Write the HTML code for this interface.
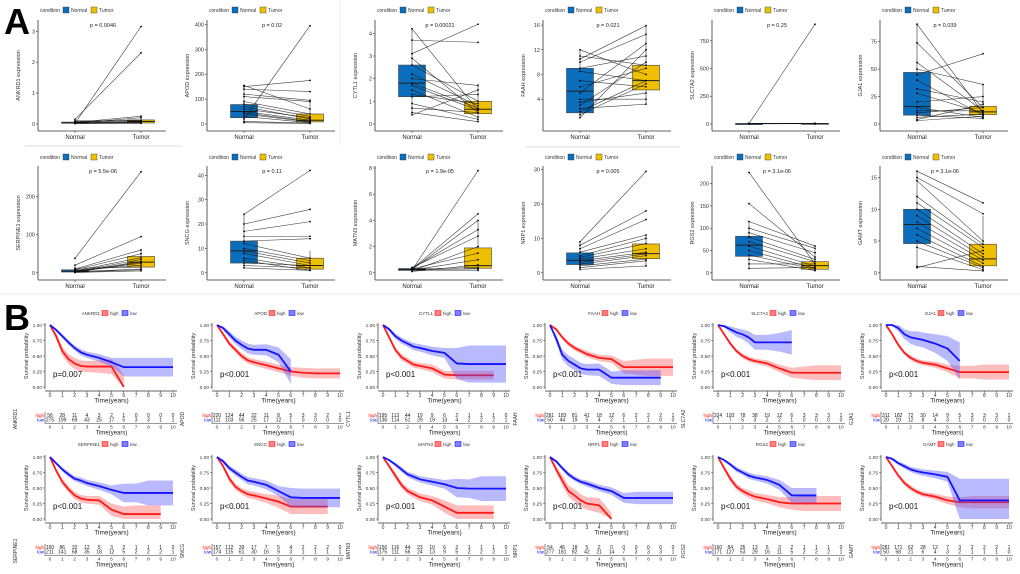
<!DOCTYPE html>
<html><head><meta charset="utf-8">
<style>
html,body{margin:0;padding:0;background:#fff;}
svg{display:block;font-family:"Liberation Sans",sans-serif;}
</style></head>
<body>
<svg id="fig" width="1020" height="574" viewBox="0 0 1020 574">
<text x="4" y="34" font-size="36" font-weight="bold">A</text>
<text x="4" y="330" font-size="36" font-weight="bold">B</text>
<line x1="25" y1="146" x2="182" y2="146" stroke="#ddd" stroke-width="1"/>
<line x1="340" y1="0" x2="340" y2="145" stroke="#eee" stroke-width="1"/>
<line x1="525" y1="147" x2="680" y2="147" stroke="#ddd" stroke-width="1"/>
<line x1="0" y1="294" x2="1020" y2="294" stroke="#eee" stroke-width="1"/>
</svg>
<script>
// ---------- Panel A data ----------
const genes = ["ANKRD1","APOD","CYTL1","FAAH","SLC7A2","GJA1","SERPINE1","SNCG","MATN3","NRP1","RGS2","GAMT"];
const pValsA = ["p = 0.0046","p = 0.02","p = 0.00021","p = 0.021","p = 0.25","p = 0.039","p = 5.5e-06","p = 0.11","p = 1.9e-05","p = 0.005","p = 3.1e-06","p = 3.1e-06"];
const yMaxA = [3.3,410,4.5,16.5,920,93,275,43,8,30.5,235,16.5];
const yTicksA = [[0,1,2,3],[0,100,200,300,400],[0,1,2,3,4],[4,8,12,16],[0,250,500,750],[0,25,50,75],[0,100,200],[0,10,20,30,40],[0,2,4,6,8],[0,10,20,30],[0,50,100,150,200],[0,5,10,15]];
const boxNormal = [[0,0.02,0.04,0.06,0.15],[5,25,50,78,155],[0.4,1.2,1.8,2.6,4.2],[1,1.8,5.3,9,12],[0,1,2,3,5],[3,8,16,47,91],[0,2,4,8,20],[2,4,9,13,24],[0.1,0.18,0.25,0.33,0.45],[1,2.4,3.6,5.8,9],[8,37,62,82,115],[1,4.6,7.6,10,16]];
const boxTumor = [[0,0.03,0.08,0.13,0.25],[2,8,15,40,95],[0.1,0.45,0.65,1.0,1.75],[3.2,5.5,7,9.5,15.9],[0,1,3,5,8],[5,8.5,11,16,36],[5,15,28,43,60],[1,1.5,3,6,9],[0.1,0.35,0.55,1.9,4],[2,4.1,5.6,8.4,11],[3,8,16,25,55],[0.3,1.1,2.2,4.5,9]];
const ptsNormal = [
 [0.02,0.15,0.05,0.03,0.1,0.04,0.06,0.02,0.08,0.03,0.05,0.01],
 [155,150,140,120,110,90,80,70,60,50,45,40,30,20,10,5],
 [4.2,3.7,3.1,2.9,2.6,2.2,2,1.8,1.7,1.5,1.3,1.2,0.9,0.7,0.5,0.4],
 [12,10.5,10,9,8.5,7,6,5,4,3.5,3,2,1.5,1,2.5,11],
 [3,2,4,1,5,2,3,1,2,4],
 [91,74,56,50,45,40,32,28,20,15,12,10,8,6,4,3],
 [38,20,10,8,5,3,2,1,4,6,12,3,2,1],
 [24,20,17,15,13,12,10,9,8,6,5,4,3,2],
 [0.2,0.3,0.25,0.35,0.4,0.15,0.3,0.2,0.1,0.3,0.25,0.2],
 [9,8,7,6,5,4.5,4,3.5,3,2.5,2,1.5,1],
 [225,155,115,100,90,80,70,60,50,40,30,20,10],
 [16,15,14.5,12,11,10,9,8,7,6,5,4,1,0.8]];
const ptsTumor = [
 [3.15,2.3,0.25,0.2,0.1,0.05,0.08,0.03,0.12,0.04,0.06,0.02],
 [60,175,130,95,90,40,30,20,25,15,10,8,5,395,3,2],
 [0.6,3.6,4.4,0.5,1.0,0.8,1.7,0.7,0.6,0.3,0.9,1.3,0.2,0.5,0.1,1.5],
 [8,15.9,14.5,11,7,6,9,13,4,5,10,7,6.5,12,3.2,9.5],
 [900,3,2,5,1,4,3,2,6,1],
 [10,15,12,36,64,8,20,10,25,6,12,15,5,9,18,7],
 [265,95,60,50,40,35,30,28,25,20,15,10,8,5],
 [42,26,21,15,14,6,5,4,3,2,1,3,2,1],
 [7.8,4.5,4,3.3,2.8,2,1.5,1,0.6,0.4,0.3,0.2],
 [29.5,18,15.5,11,10,8.5,7,6,5.5,5,4,3.5,2],
 [20,35,60,55,45,30,25,15,10,8,5,20,12],
 [11,9.3,5,4.5,4,3,2.5,2,1.5,1,0.8,0.5,0.3,3.5]];

// ---------- Panel B data ----------
const timesB = [0,0.5,1,1.5,2,2.5,3,4,5,6,7,8,9,10];
const pValsB = ["p=0.007","p<0.001","p<0.001","p<0.001","p<0.001","p<0.001","p<0.001","p<0.001","p<0.001","p<0.001","p<0.001","p<0.001"];
const survHigh = [
 [1,.82,.58,.45,.38,.34,.33,.33,.33,0,null,null,null,null],
 [1,.85,.7,.6,.5,.43,.4,.35,.3,.25,.23,.22,.22,.22],
 [1,.8,.6,.48,.42,.36,.34,.3,.2,.19,.19,.19,.19,null],
 [1,.93,.8,.7,.63,.58,.53,.47,.45,.32,.32,.32,.32,.32],
 [1,.85,.7,.58,.5,.45,.42,.38,.3,.23,.23,.23,.23,.23],
 [1,.85,.68,.55,.47,.42,.39,.36,.3,.24,.24,.24,.24,.24],
 [1,.78,.6,.48,.38,.33,.31,.3,.15,.08,.08,.08,.08,null],
 [1,.85,.65,.52,.45,.4,.38,.33,.28,.2,.2,.2,.2,null],
 [1,.85,.7,.55,.45,.4,.35,.3,.2,.1,.1,.1,.1,null],
 [1,.8,.62,.45,.38,.3,.25,.22,0,null,null,null,null,null],
 [1,.82,.65,.52,.45,.4,.36,.32,.27,.25,.25,.25,.25,.25],
 [1,.85,.7,.58,.5,.44,.4,.36,.3,.27,.27,.27,.27,.27]];
const survLow = [
 [1,.92,.82,.72,.63,.56,.52,.47,.40,.32,.32,.32,.32,.32],
 [1,.95,.85,.75,.68,.62,.6,.6,.52,.25,null,null,null,null],
 [1,.93,.82,.75,.7,.65,.63,.58,.55,.38,.37,.37,.37,.37],
 [1,.78,.52,.42,.36,.3,.28,.28,.15,.15,.15,.15,.15,null],
 [1,.98,.93,.88,.85,.8,.72,.72,.72,.72,null,null,null,null],
 [1,1,.95,.85,.8,.78,.76,.7,.62,.42,null,null,null,null],
 [1,.9,.8,.72,.65,.62,.58,.53,.47,.42,.42,.42,.42,.42],
 [1,.93,.82,.75,.68,.62,.6,.55,.45,.35,.34,.34,.34,.34],
 [1,.95,.88,.8,.72,.68,.64,.6,.56,.5,.49,.49,.49,.49],
 [1,.93,.82,.72,.65,.6,.57,.5,.45,.34,.34,.34,.34,.34],
 [1,.95,.88,.8,.75,.7,.67,.63,.55,.38,.38,.38,null,null],
 [1,.97,.9,.85,.8,.77,.75,.72,.68,.3,.3,.3,.3,.3]];
const ciHigh = [
 [0,.05,.07,.08,.09,.09,.09,.1,.12,.2,0,0,0,0],
 [0,.03,.04,.04,.05,.05,.05,.06,.06,.07,.08,.08,.08,.08],
 [0,.03,.04,.05,.05,.05,.05,.06,.06,.07,.07,.07,.07,0],
 [0,.02,.03,.04,.04,.04,.05,.05,.06,.1,.12,.14,.14,.14],
 [0,.02,.03,.03,.04,.04,.04,.05,.06,.08,.1,.12,.12,.12],
 [0,.02,.03,.03,.04,.04,.04,.05,.06,.1,.1,.12,.12,.12],
 [0,.03,.05,.05,.06,.06,.06,.07,.1,.12,.14,.14,.14,0],
 [0,.03,.05,.05,.05,.06,.06,.07,.1,.12,.12,.12,.12,0],
 [0,.03,.05,.05,.05,.06,.06,.07,.1,.12,.12,.12,.12,0],
 [0,.05,.08,.09,.1,.1,.1,.12,.1,0,0,0,0,0],
 [0,.03,.05,.05,.05,.06,.06,.07,.08,.1,.12,.12,.12,.12],
 [0,.02,.03,.04,.04,.04,.04,.05,.06,.08,.1,.1,.1,.1]];
const ciLow = [
 [0,.02,.03,.04,.04,.05,.05,.06,.07,.15,.15,.15,.15,.15],
 [0,.03,.05,.06,.07,.08,.08,.09,.12,.2,0,0,0,0],
 [0,.03,.04,.05,.05,.06,.06,.07,.08,.25,.3,.3,.3,.3],
 [0,.06,.08,.09,.09,.09,.09,.1,.1,.12,.12,.12,.12,0],
 [0,.02,.05,.07,.08,.1,.12,.12,.15,.2,0,0,0,0],
 [0,.02,.05,.08,.1,.12,.12,.15,.2,.3,0,0,0,0],
 [0,.02,.03,.04,.04,.05,.05,.06,.07,.15,.15,.2,.2,.2],
 [0,.03,.04,.05,.05,.06,.06,.07,.08,.15,.15,.15,.15,.15],
 [0,.02,.03,.04,.04,.05,.05,.06,.07,.15,.15,.2,.2,.2],
 [0,.02,.03,.04,.04,.04,.05,.05,.06,.08,.1,.1,.1,.1],
 [0,.02,.03,.04,.04,.05,.05,.06,.08,.12,.12,.12,0,0],
 [0,.02,.03,.04,.04,.05,.05,.06,.08,.35,.35,.35,.35,.35]];
const riskHigh = [[56,28,11,4,3,2,1,0,0,0,0],[220,124,44,22,11,8,5,3,3,2,1],[195,113,44,19,9,6,2,1,1,1,0],[281,183,81,41,18,12,6,2,2,2,1],[324,193,78,38,19,12,6,3,3,3,1],[311,182,72,30,14,9,5,3,3,3,1],[160,86,32,12,5,3,2,1,1,1,0],[157,112,39,17,7,5,4,2,2,2,0],[156,116,44,23,10,6,2,1,1,1,0],[54,46,18,5,2,0,0,0,0,0,0],[160,84,35,13,5,3,2,1,1,1,0],[281,171,62,28,12,7,3,2,2,2,1]];
const riskLow = [[275,199,69,43,25,17,5,3,3,1,1],[111,103,56,25,17,12,1,0,0,0,0],[136,114,51,29,19,13,4,2,2,2,1],[50,44,19,5,4,2,1,1,1,0,0],[7,7,5,3,2,2,1,0,0,0,0],[20,19,12,8,4,3,1,0,0,0,0],[211,141,68,35,18,12,5,2,2,2,1],[174,115,61,30,16,9,3,1,1,1,1],[175,111,56,24,13,9,5,2,2,2,1],[277,181,82,42,21,14,7,3,3,3,1],[171,127,53,29,16,11,5,2,2,2,1],[50,58,21,6,4,3,2,1,1,1,0]];
const yearTicks = [0,1,2,3,4,5,6,7,8,9,10];
const survTicks = [0,0.25,0.5,0.75,1];

const svg = document.getElementById('fig');
const NS = 'http://www.w3.org/2000/svg';
function mk(tag, attrs, parent, text){
  const e = document.createElementNS(NS, tag);
  for (const k in attrs) e.setAttribute(k, attrs[k]);
  if (text !== undefined) e.textContent = text;
  (parent || svg).appendChild(e);
  return e;
}

// ---------- Draw panel A ----------
const axisXA = [38,207,375,543,712,880];
for (let i = 0; i < 12; i++) {
  const c = i % 6, r = Math.floor(i / 6);
  const ax = axisXA[c];
  const top = r === 0 ? 20 : 166, bot = r === 0 ? 131 : 280;
  const legY = r === 0 ? 10 : 157;
  const g = mk('g', {});
  
  
  const dmin = -yMaxA[i] * 0.04, dmax = yMaxA[i];
  const ys = v => bot - 3 - (v - dmin) / (dmax - dmin) * (bot - 3 - top - 2);
  const xN = ax + 37, xT = ax + 103;
  mk('line', {x1: ax, y1: top, x2: ax, y2: bot, stroke: '#333', 'stroke-width': 0.8}, g);
  mk('line', {x1: ax, y1: bot, x2: ax + 128, y2: bot, stroke: '#333', 'stroke-width': 0.8}, g);
  yTicksA[i].forEach(t => {
    const y = ys(t);
    mk('line', {x1: ax - 2, y1: y, x2: ax, y2: y, stroke: '#333', 'stroke-width': 0.6}, g);
    const tl = mk('text', {x: ax - 3, y: y + 2, 'font-size': 5.5, 'text-anchor': 'end', fill: '#333'}, g, t);
    
    
  });
  [[xN, 'Normal'], [xT, 'Tumor']].forEach(([x, l]) => {
    mk('line', {x1: x, y1: bot, x2: x, y2: bot + 2, stroke: '#333', 'stroke-width': 0.6}, g);
    const xl = mk('text', {x: x, y: bot + 8, 'font-size': 6, 'text-anchor': 'middle', fill: '#222'}, g, l);
    
    
  });
  const yt = mk('text', {x: 0, y: 0, 'font-size': 5.5, 'text-anchor': 'middle', fill: '#333', transform: `translate(${ax - 18},${(top + bot) / 2}) rotate(-90)`}, g, genes[i] + ' expression');
  
  
  [[xN, boxNormal[i], '#0a6ebd'], [xT, boxTumor[i], '#efc000']].forEach(([x, b, col]) => {
    const w = 27;
    mk('line', {x1: x, y1: ys(b[0]), x2: x, y2: ys(b[4]), stroke: '#333', 'stroke-width': 0.6}, g);
    const rect = mk('rect', {x: x - w / 2, y: ys(b[3]), width: w, height: Math.max(1, ys(b[1]) - ys(b[3])), fill: col, stroke: '#444', 'stroke-width': 0.6}, g);
    
    
    mk('line', {x1: x - w / 2, y1: ys(b[2]), x2: x + w / 2, y2: ys(b[2]), stroke: '#222', 'stroke-width': 1}, g);
  });
  ptsNormal[i].forEach((v, k) => {
    const t = ptsTumor[i][k];
    const ln = mk('line', {x1: xN, y1: ys(v), x2: xT, y2: ys(t), stroke: '#111', 'stroke-width': 0.6, 'stroke-opacity': 0.8}, g);
    
    
    mk('circle', {cx: xN, cy: ys(v), r: 0.9, fill: '#000'}, g);
    mk('circle', {cx: xT, cy: ys(t), r: 0.9, fill: '#000'}, g);
  });
  const pv = mk('text', {x: ax + 65, y: top + 7, 'font-size': 5.5, 'text-anchor': 'middle', fill: '#222'}, g, pValsA[i]);
  
  
  const lg = mk('g', {}, g);
  
  
  const lx = ax + 22;
  mk('text', {x: lx, y: legY + 2, 'font-size': 5, 'text-anchor': 'end', fill: '#333'}, lg, 'condition');
  mk('rect', {x: lx + 3, y: legY - 3, width: 6, height: 6, fill: '#0a6ebd', stroke: '#333', 'stroke-width': 0.4}, lg);
  mk('text', {x: lx + 11, y: legY + 2, 'font-size': 5, fill: '#333'}, lg, 'Normal');
  mk('rect', {x: lx + 31, y: legY - 3, width: 6, height: 6, fill: '#efc000', stroke: '#333', 'stroke-width': 0.4}, lg);
  mk('text', {x: lx + 39, y: legY + 2, 'font-size': 5, fill: '#333'}, lg, 'Tumor');
}

// ---------- Draw panel B ----------
const t0B = [50,217,383,550,718,886];
for (let i = 0; i < 12; i++) {
  const c = i % 6, r = Math.floor(i / 6);
  const x0 = t0B[c], span = 123;
  const yTop = r === 0 ? 325 : 457, yBot = r === 0 ? 387 : 519;
  const legY = r === 0 ? 313 : 444;
  const rkY = r === 0 ? 417 : 549;
  const xs = t => x0 + t / 10 * span;
  const ys = s => yBot - s * (yBot - yTop);
  const g = mk('g', {});
  
  
  mk('line', {x1: x0 - 5, y1: yTop - 2, x2: x0 - 5, y2: yBot + 2, stroke: '#333', 'stroke-width': 0.7}, g);
  mk('line', {x1: x0 - 5, y1: yBot + 4, x2: x0 + span + 4, y2: yBot + 4, stroke: '#333', 'stroke-width': 0.7}, g);
  survTicks.forEach(s => {
    mk('line', {x1: x0 - 7, y1: ys(s), x2: x0 - 5, y2: ys(s), stroke: '#333', 'stroke-width': 0.5}, g);
    mk('text', {x: x0 - 8, y: ys(s) + 1.8, 'font-size': 4.8, 'text-anchor': 'end', fill: '#333'}, g, s.toFixed(2));
  });
  yearTicks.forEach(t => {
    mk('line', {x1: xs(t), y1: yBot + 4, x2: xs(t), y2: yBot + 6, stroke: '#333', 'stroke-width': 0.5}, g);
    mk('text', {x: xs(t), y: yBot + 10, 'font-size': 5, 'text-anchor': 'middle', fill: '#333'}, g, t);
  });
  mk('text', {x: x0 + span / 2, y: yBot + 15.5, 'font-size': 6.5, 'text-anchor': 'middle', fill: '#222'}, g, 'Time(years)');
  mk('text', {x: 0, y: 0, 'font-size': 5.5, 'text-anchor': 'middle', fill: '#333', transform: `translate(${x0 - 22},${(yTop + yBot) / 2}) rotate(-90)`}, g, 'Survival probability');
  [[survHigh[i], ciHigh[i], '#ff1a1a', 'rgba(255,80,80,0.38)', 'high'], [survLow[i], ciLow[i], '#1414ff', 'rgba(70,70,255,0.38)', 'low']].forEach(([sv, ci, col, fillc, nm]) => {
    let up = [], dn = [], line = [];
    sv.forEach((v, k) => {
      if (v === null) return;
      const x = xs(timesB[k]);
      line.push(x + ',' + ys(v));
      up.push(x + ',' + ys(Math.min(1, v + ci[k])));
      dn.unshift(x + ',' + ys(Math.max(0, v - ci[k])));
    });
    const band = mk('polygon', {points: up.concat(dn).join(' '), fill: fillc, stroke: 'none'}, g);
    
    
    const pl = mk('polyline', {points: line.join(' '), fill: 'none', stroke: col, 'stroke-width': 1.8}, g);
    
    
  });
  const pv = mk('text', {x: x0 + 3, y: yBot - 10, 'font-size': 8, fill: '#111'}, g, pValsB[i]);
  
  
  const lg = mk('g', {}, g);
  
  
  const lx = x0 + 50;
  mk('text', {x: lx, y: legY + 2, 'font-size': 4.5, 'text-anchor': 'end', fill: '#333'}, lg, genes[i]);
  mk('rect', {x: lx + 2, y: legY - 2.5, width: 6, height: 5, fill: '#ff8080', stroke: '#f00', 'stroke-width': 0.5}, lg);
  mk('text', {x: lx + 10, y: legY + 2, 'font-size': 4.5, fill: '#333'}, lg, 'high');
  mk('rect', {x: lx + 22, y: legY - 2.5, width: 6, height: 5, fill: '#8080ff', stroke: '#00f', 'stroke-width': 0.5}, lg);
  mk('text', {x: lx + 30, y: legY + 2, 'font-size': 4.5, fill: '#333'}, lg, 'low');
  const rt = mk('g', {}, g);
  
  
  mk('text', {x: 0, y: 0, 'font-size': 5, 'text-anchor': 'middle', fill: '#333', transform: `translate(${x0 - 33},${rkY + 2}) rotate(-90)`}, rt, genes[i]);
  mk('text', {x: x0 - 6, y: rkY, 'font-size': 4.5, 'text-anchor': 'end', fill: '#f00'}, rt, 'high');
  mk('text', {x: x0 - 6, y: rkY + 4.5, 'font-size': 4.5, 'text-anchor': 'end', fill: '#00f'}, rt, 'low');
  mk('line', {x1: x0 - 5, y1: rkY - 5, x2: x0 - 5, y2: rkY + 6.5, stroke: '#333', 'stroke-width': 0.6}, rt);
  mk('line', {x1: x0 - 5, y1: rkY + 6.5, x2: x0 + span + 4, y2: rkY + 6.5, stroke: '#333', 'stroke-width': 0.6}, rt);
  yearTicks.forEach((t, k) => {
    mk('text', {x: xs(t), y: rkY, 'font-size': 5, 'text-anchor': 'middle', fill: '#222'}, rt, riskHigh[i][k]);
    mk('text', {x: xs(t), y: rkY + 4.5, 'font-size': 5, 'text-anchor': 'middle', fill: '#222'}, rt, riskLow[i][k]);
    mk('text', {x: xs(t), y: rkY + 11.5, 'font-size': 4.8, 'text-anchor': 'middle', fill: '#333'}, rt, t);
  });
  mk('text', {x: x0 + span / 2, y: rkY + 17.5, 'font-size': 6, 'text-anchor': 'middle', fill: '#222'}, rt, 'Time(years)');
}
</script>
</body></html>
